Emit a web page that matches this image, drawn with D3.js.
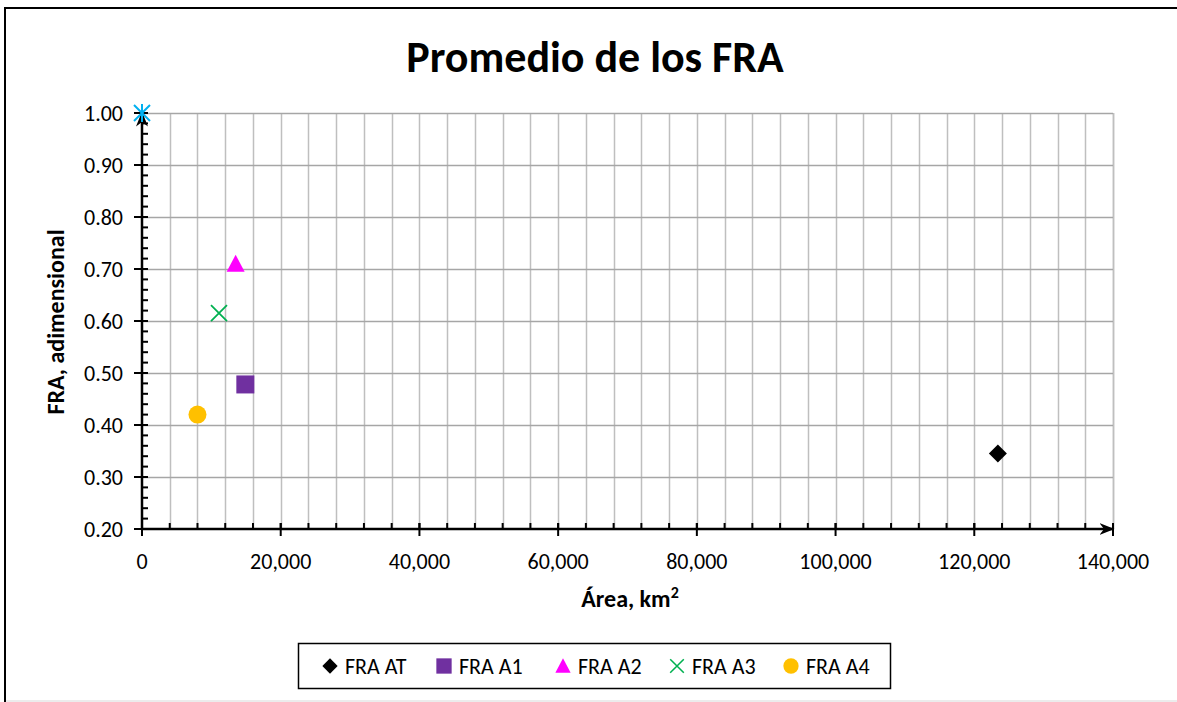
<!DOCTYPE html>
<html>
<head>
<meta charset="utf-8">
<script src="https://cdn.jsdelivr.net/npm/d3@7"></script>
<style>
  html, body { margin: 0; background: #fff; overflow: hidden; }
  svg { display: block; font-family: Carlito, Calibri, Lato, sans-serif; }
</style>
</head>
<body>
<svg width="1177" height="702"></svg>
<script>
// series: [area km2, FRA]
var seriesNames = ['FRA AT', 'FRA A1', 'FRA A2', 'FRA A3', 'FRA A4'];
var fraAT = [[123400, 0.345]];
var fraA1 = [[14900, 0.478]];
var fraA2 = [[13500, 0.710]];
var fraA3 = [[11100, 0.615]];
var fraA4 = [[8000, 0.420]];
var origen = [[0, 1.00]]; // punto sin leyenda
var xTicks = [0, 20000, 40000, 60000, 80000, 100000, 120000, 140000];
var yTicks = [0.20, 0.30, 0.40, 0.50, 0.60, 0.70, 0.80, 0.90, 1.00];

var svg = d3.select('svg');
var W = 1177, H = 702;

// outer frame (right and bottom edges fall outside the picture)
svg.append('path')
    .attr('d', 'M' + (W + 20) + ',8 L5,8 L5,' + (H + 20))
    .attr('fill', 'none').attr('stroke', '#000').attr('stroke-width', 2);
svg.append('line')
    .attr('x1', 6).attr('x2', W).attr('y1', 701).attr('y2', 701)
    .attr('stroke', '#d9d9d9').attr('stroke-width', 1);

var x = d3.scaleLinear().domain([0, 140000]).range([142, 1113]);
var y = d3.scaleLinear().domain([0.2, 1.0]).range([529, 113]);

var g = svg.append('g');

// vertical gridlines every 4000
var xMinor = d3.range(4000, 140001, 4000);
g.selectAll('line.vg').data(xMinor.concat([140000])).enter().append('line')
    .attr('class', 'vg')
    .attr('x1', function (d) { return Math.round(x(d)) + 0.5; })
    .attr('x2', function (d) { return Math.round(x(d)) + 0.5; })
    .attr('y1', y(1.0)).attr('y2', y(0.2))
    .attr('stroke', '#bfbfbf').attr('stroke-width', 1.5);

// horizontal gridlines every 0.1
g.selectAll('line.hg').data(yTicks.slice(1)).enter().append('line')
    .attr('class', 'hg')
    .attr('x1', x(0)).attr('x2', x(140000))
    .attr('y1', function (d) { return Math.round(y(d)) + 0.5; })
    .attr('y2', function (d) { return Math.round(y(d)) + 0.5; })
    .attr('stroke', '#a6a6a6').attr('stroke-width', 1.5);

// arrow marker
var defs = svg.append('defs');
defs.append('marker')
    .attr('id', 'arr').attr('viewBox', '0 0 10 10')
    .attr('refX', 9).attr('refY', 5)
    .attr('markerWidth', 6).attr('markerHeight', 6)
    .attr('markerUnits', 'strokeWidth')
    .attr('orient', 'auto')
    .append('path').attr('d', 'M0,1 L10,5 L0,9 L3,5 Z').attr('fill', '#000');

// x axis
g.append('line')
    .attr('x1', x(0)).attr('x2', x(140000))
    .attr('y1', y(0.2)).attr('y2', y(0.2))
    .attr('stroke', '#000').attr('stroke-width', 2.5)
    .attr('marker-end', 'url(#arr)');
g.selectAll('line.xmt').data(xMinor).enter().append('line')
    .attr('x1', function (d) { return x(d); }).attr('x2', function (d) { return x(d); })
    .attr('y1', y(0.2) - 6).attr('y2', y(0.2))
    .attr('stroke', '#000').attr('stroke-width', 2);
g.selectAll('line.xMt').data(xTicks).enter().append('line')
    .attr('x1', function (d) { return x(d); }).attr('x2', function (d) { return x(d); })
    .attr('y1', y(0.2) - 6).attr('y2', y(0.2) + 7)
    .attr('stroke', '#000').attr('stroke-width', 2);
g.selectAll('text.xl').data(xTicks).enter().append('text')
    .attr('x', function (d) { return x(d); })
    .attr('y', 569)
    .attr('text-anchor', 'middle')
    .attr('font-size', 22)
    .text(function (d) { return d3.format(',')(d); });

// y axis
var yMinor = d3.range(0.22, 1.0, 0.02);
g.append('line')
    .attr('x1', x(0)).attr('x2', x(0))
    .attr('y1', y(0.2)).attr('y2', y(1.0))
    .attr('stroke', '#000').attr('stroke-width', 2.5)
    .attr('marker-end', 'url(#arr)');
g.selectAll('line.ymt').data(yMinor).enter().append('line')
    .attr('x1', x(0)).attr('x2', x(0) + 6)
    .attr('y1', function (d) { return y(d); }).attr('y2', function (d) { return y(d); })
    .attr('stroke', '#000').attr('stroke-width', 2);
g.selectAll('line.yMt').data(yTicks).enter().append('line')
    .attr('x1', x(0) - 8).attr('x2', x(0) + 6)
    .attr('y1', function (d) { return y(d); }).attr('y2', function (d) { return y(d); })
    .attr('stroke', '#000').attr('stroke-width', 2);
g.selectAll('text.yl').data(yTicks).enter().append('text')
    .attr('x', 123)
    .attr('y', function (d) { return y(d) + 7.5; })
    .attr('text-anchor', 'end')
    .attr('font-size', 22)
    .text(function (d) { return d3.format('.2f')(d); });

// titles
svg.append('text')
    .attr('x', 595).attr('y', 72)
    .attr('text-anchor', 'middle')
    .attr('font-size', 44).attr('font-weight', 'bold')
    .text('Promedio de los FRA');
var xt = svg.append('text')
    .attr('x', 630).attr('y', 607)
    .attr('text-anchor', 'middle')
    .attr('font-size', 24).attr('font-weight', 'bold');
xt.append('tspan').text('Área, km');
xt.append('tspan').attr('font-size', 16).attr('dy', -9).text('2');
svg.append('text')
    .attr('transform', 'translate(64,322) rotate(-90)')
    .attr('text-anchor', 'middle')
    .attr('font-size', 24).attr('font-weight', 'bold')
    .text('FRA, adimensional');

// markers
function drawMarker(sel, i) {
    if (i === 0) {
        sel.append('path').attr('d', 'M0,-9 L9,0 L0,9 L-9,0 Z').attr('fill', '#000');
    } else if (i === 1) {
        sel.append('rect').attr('x', -9).attr('y', -9).attr('width', 18).attr('height', 18)
            .attr('fill', '#7030a0');
    } else if (i === 2) {
        sel.append('path').attr('d', 'M0,-9 L9,8 L-9,8 Z').attr('fill', '#ff00ff');
    } else if (i === 3) {
        sel.append('path').attr('d', 'M-8,-8 L8,8 M8,-8 L-8,8')
            .attr('stroke', '#00b050').attr('stroke-width', 1.8).attr('fill', 'none');
    } else if (i === 4) {
        sel.append('circle').attr('r', 9).attr('fill', '#ffc000');
    } else {
        sel.append('path').attr('d', 'M-8,-8 L8,8 M8,-8 L-8,8 M0,-9 L0,9')
            .attr('stroke', '#00b0f0').attr('stroke-width', 2).attr('fill', 'none');
    }
}

var allSeries = [fraAT, fraA1, fraA2, fraA3, fraA4, origen];
allSeries.forEach(function (s, i) {
    g.selectAll(null).data(s).enter().append('g')
        .attr('transform', function (d) { return 'translate(' + x(d[0]) + ',' + y(d[1]) + ')'; })
        .each(function () { drawMarker(d3.select(this), i); });
});

// legend
var lg = svg.append('g');
lg.append('rect')
    .attr('x', 298.5).attr('y', 643.5).attr('width', 592).attr('height', 45)
    .attr('fill', '#fff').attr('stroke', '#000').attr('stroke-width', 1.5);
var legX = [330, 444, 563, 677, 791];
seriesNames.forEach(function (n, i) {
    var it = lg.append('g').attr('transform', 'translate(' + legX[i] + ',666)');
    var m = it.append('g').attr('transform', 'scale(0.85)');
    drawMarker(m, i);
    it.append('text').attr('x', 15).attr('y', 7.5)
        .attr('font-size', 22).text(n);
});
</script>
</body>
</html>
